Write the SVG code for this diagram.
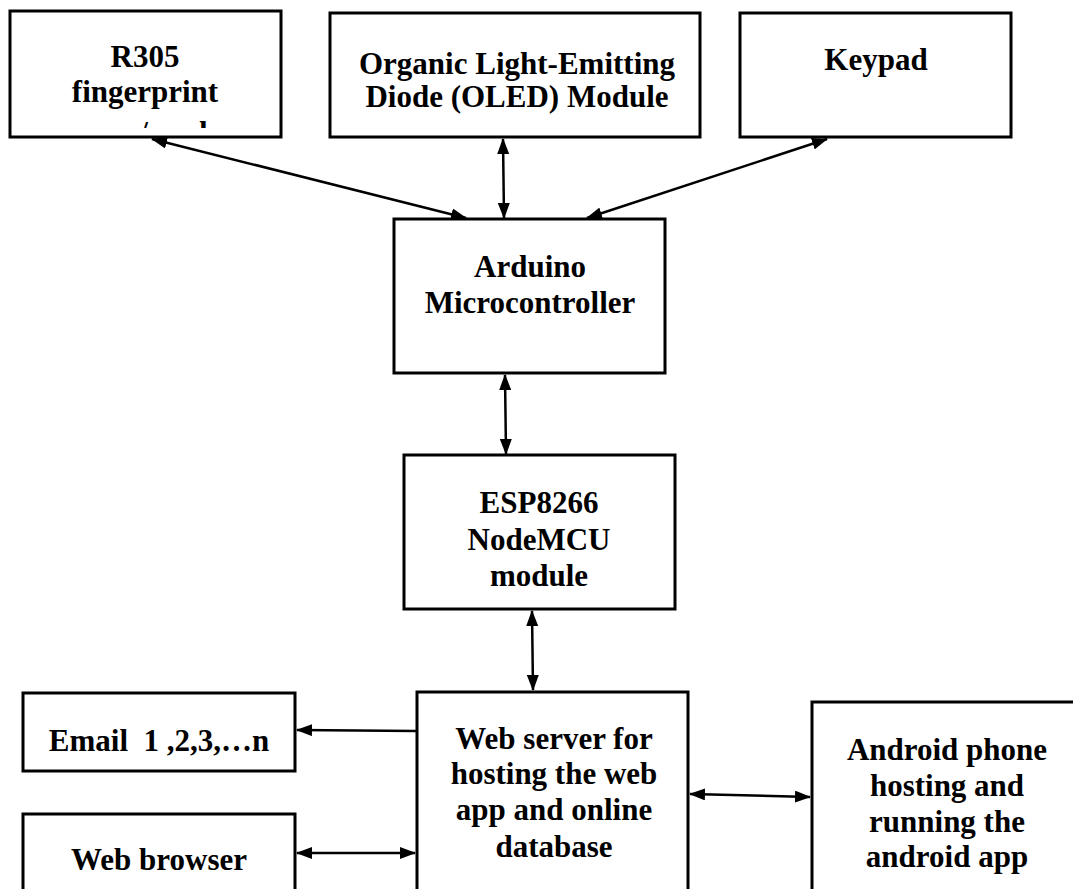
<svg xmlns="http://www.w3.org/2000/svg" width="1073" height="889" viewBox="0 0 1073 889">
<style>
.box{fill:#fff;stroke:#000;stroke-width:3}
.t{font-family:"Liberation Serif","Times New Roman",serif;font-weight:bold;font-size:31px;fill:#000;text-anchor:middle}
.c{stroke:#000;stroke-width:2.5;fill:none;marker-end:url(#ah);marker-start:url(#ah)}
.c1{stroke:#000;stroke-width:2.5;fill:none;marker-end:url(#ah)}
</style>
<defs>
<marker id="ah" viewBox="0 0 16 12" refX="15" refY="6" markerWidth="16" markerHeight="12" markerUnits="userSpaceOnUse" orient="auto-start-reverse">
<path d="M0,0 L16,6 L0,12 z" fill="#000"/>
</marker>
<clipPath id="r305clip"><rect x="12" y="13" width="267" height="115"/></clipPath>
</defs>
<rect width="1073" height="889" fill="#fff"/>
<g id="r305">
<rect class="box" x="10" y="11" width="271" height="126"/>
<text class="t" x="145" y="67">R305</text>
<text class="t" x="145" y="102">fingerprint</text>
<text class="t" x="145" y="143" clip-path="url(#r305clip)">sensor/reader</text>
</g>
<g id="oled">
<rect class="box" x="330" y="13" width="370" height="124"/>
<text class="t" x="517" y="74">Organic Light-Emitting</text>
<text class="t" x="517" y="107">Diode (OLED) Module</text>
</g>
<g id="keypad">
<rect class="box" x="740" y="13" width="271" height="124"/>
<text class="t" x="876" y="70">Keypad</text>
</g>
<g id="arduino">
<rect class="box" x="394" y="219" width="271" height="154"/>
<text class="t" x="530" y="277">Arduino</text>
<text class="t" x="530" y="313">Microcontroller</text>
</g>
<g id="esp">
<rect class="box" x="404" y="455" width="271" height="154"/>
<text class="t" x="539" y="513">ESP8266</text>
<text class="t" x="539" y="550">NodeMCU</text>
<text class="t" x="539" y="586">module</text>
</g>
<g id="email">
<rect class="box" x="23" y="693" width="272" height="78"/>
<text class="t" x="159" y="751" xml:space="preserve">Email  1 ,2,3,…n</text>
</g>
<g id="browser">
<rect class="box" x="23" y="814" width="272" height="100"/>
<text class="t" x="159" y="870">Web browser</text>
</g>
<g id="webserver">
<rect class="box" x="417" y="692" width="271" height="220"/>
<text class="t" x="554" y="749">Web server for</text>
<text class="t" x="554" y="784">hosting the web</text>
<text class="t" x="554" y="820">app and online</text>
<text class="t" x="554" y="857">database</text>
</g>
<g id="android">
<rect class="box" x="812" y="702" width="300" height="220"/>
<text class="t" x="947" y="760">Android phone</text>
<text class="t" x="947" y="796">hosting and</text>
<text class="t" x="947" y="832">running the</text>
<text class="t" x="947" y="867">android app</text>
</g>
<g id="connectors">
<line class="c" x1="152" y1="139" x2="466" y2="218"/>
<line class="c" x1="503" y1="139" x2="504" y2="218"/>
<line class="c" x1="827" y1="139" x2="587" y2="218"/>
<line class="c" x1="505" y1="375" x2="506" y2="454"/>
<line class="c" x1="532" y1="611" x2="533" y2="690"/>
<line class="c1" x1="416" y1="731" x2="297" y2="730"/>
<line class="c" x1="297" y1="853" x2="415" y2="853"/>
<line class="c" x1="690" y1="794" x2="810" y2="797"/>
</g>
</svg>
